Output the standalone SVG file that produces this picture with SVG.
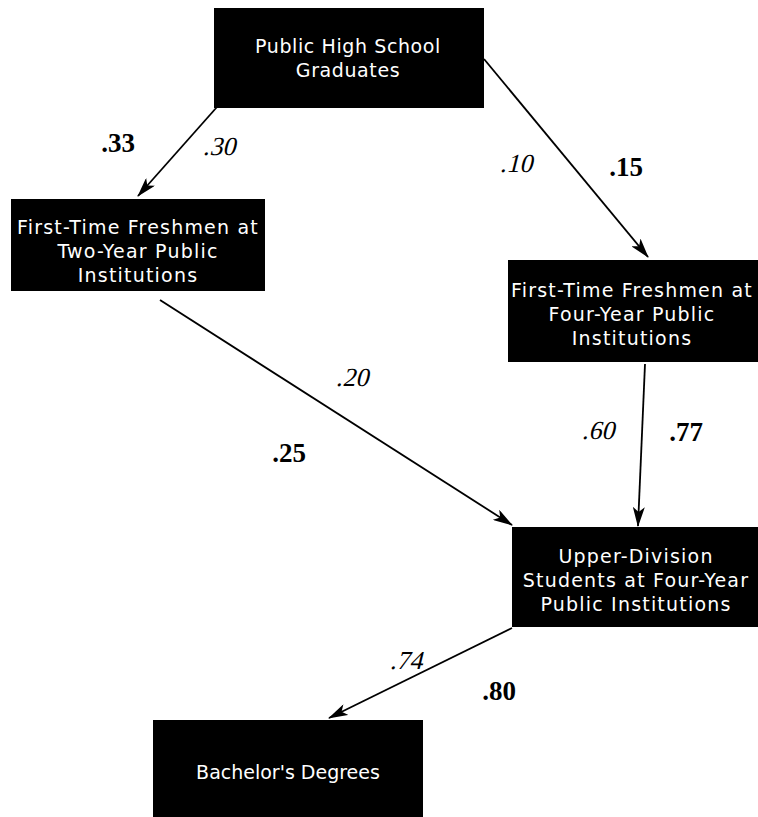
<svg xmlns="http://www.w3.org/2000/svg" width="758" height="817" viewBox="0 0 758 817">
<style>
.box{fill:#000}
.t{font-family:"DejaVu Sans","Open Sans",sans-serif;font-size:19px;fill:#fff;text-anchor:middle}
.w{letter-spacing:1.2px}
.m{letter-spacing:0.6px}
.b{font-family:"Liberation Serif","Times New Roman",serif;font-weight:bold;font-size:27px;fill:#000;text-anchor:middle}
.i{font-family:"Liberation Serif","Times New Roman",serif;font-size:26px;fill:#000;text-anchor:middle}
.c{stroke:#000;stroke-width:1.8;fill:none;marker-end:url(#ah)}
</style>
<defs>
<marker id="ah" viewBox="0 0 20 12" refX="19" refY="6" markerWidth="20" markerHeight="12" markerUnits="userSpaceOnUse" orient="auto">
<path d="M0,0 L20,6 L0,12 L5,6 Z" fill="#000"/>
</marker>
</defs>
<rect width="758" height="817" fill="#fff"/>
<g id="connectors">
<line class="c" x1="217" y1="107" x2="138" y2="196"/>
<line class="c" x1="484" y1="59" x2="648" y2="257"/>
<line class="c" x1="160" y1="300" x2="512" y2="525"/>
<line class="c" x1="645" y1="364" x2="638" y2="526"/>
<line class="c" x1="512" y1="628" x2="329" y2="718"/>
</g>
<g id="labels">
<text class="b" x="118" y="152">.33</text>
<text class="i" transform="translate(219,155) skewX(-14)">.30</text>
<text class="i" transform="translate(516,172) skewX(-14)">.10</text>
<text class="b" x="626" y="176">.15</text>
<text class="i" transform="translate(352,386) skewX(-14)">.20</text>
<text class="b" x="289" y="462">.25</text>
<text class="i" transform="translate(598,439) skewX(-14)">.60</text>
<text class="b" x="686" y="441">.77</text>
<text class="i" transform="translate(406,669) skewX(-14)">.74</text>
<text class="b" x="499" y="700">.80</text>
</g>
<g id="n1"><rect class="box" x="214" y="8" width="270" height="100"/>
<text class="t m" x="348" y="53">Public High School</text><text class="t m" x="348" y="77">Graduates</text></g>
<g id="n2"><rect class="box" x="11" y="199" width="254" height="92"/>
<text class="t w" x="138" y="234">First-Time Freshmen at</text><text class="t w" x="138" y="258">Two-Year Public</text><text class="t w" x="138" y="282">Institutions</text></g>
<g id="n3"><rect class="box" x="508" y="260" width="250" height="102"/>
<text class="t w" x="632" y="297">First-Time Freshmen at</text><text class="t w" x="632" y="321">Four-Year Public</text><text class="t w" x="632" y="345">Institutions</text></g>
<g id="n4"><rect class="box" x="512" y="527" width="246" height="100"/>
<text class="t w" x="636" y="563">Upper-Division</text><text class="t w" x="636" y="587">Students at Four-Year</text><text class="t w" x="636" y="611">Public Institutions</text></g>
<g id="n5"><rect class="box" x="153" y="720" width="270" height="97"/>
<text class="t" x="288" y="779">Bachelor's Degrees</text></g>
</svg>
